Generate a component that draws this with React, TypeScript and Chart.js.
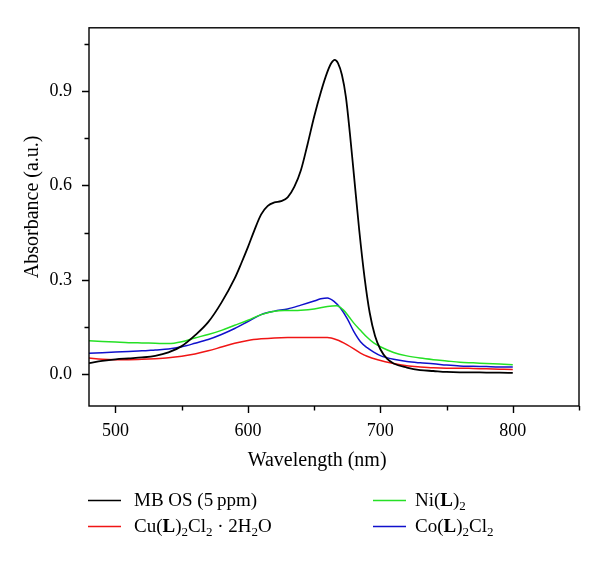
import React, { useEffect, useRef } from 'react';
import { Chart, registerables } from 'chart.js';

Chart.register(...registerables);

// ---------- data ----------
const mbWavelength = [480, 490, 500, 510, 520, 530, 540, 550, 560, 570, 580, 590, 595, 600, 605, 610, 615, 620, 625, 630, 635, 640, 645, 650, 655, 660, 663, 665.5, 668, 671, 674, 677, 680, 684, 688, 692, 696, 700, 705, 710, 720, 730, 740, 750, 760, 770, 780, 790, 800];
const mbAbsorbance = [0.036, 0.043, 0.048, 0.051, 0.054, 0.059, 0.070, 0.090, 0.124, 0.166, 0.228, 0.305, 0.353, 0.404, 0.459, 0.508, 0.535, 0.546, 0.550, 0.562, 0.595, 0.648, 0.730, 0.818, 0.895, 0.960, 0.988, 0.998, 0.988, 0.950, 0.880, 0.765, 0.635, 0.460, 0.310, 0.195, 0.122, 0.080, 0.050, 0.035, 0.022, 0.014, 0.011, 0.008, 0.007, 0.007, 0.006, 0.006, 0.005];

const cuWavelength = [480, 490, 500, 510, 520, 530, 540, 550, 560, 570, 580, 590, 600, 610, 620, 630, 640, 650, 660, 667, 675, 685, 690, 698, 710, 720, 730, 740, 750, 760, 770, 780, 790, 800];
const cuAbsorbance = [0.052, 0.048, 0.047, 0.047, 0.048, 0.050, 0.053, 0.058, 0.065, 0.075, 0.087, 0.099, 0.108, 0.113, 0.116, 0.117, 0.117, 0.117, 0.117, 0.110, 0.094, 0.068, 0.058, 0.047, 0.035, 0.028, 0.024, 0.021, 0.020, 0.020, 0.019, 0.018, 0.017, 0.016];

const niWavelength = [480, 490, 500, 510, 520, 530, 540, 550, 560, 570, 580, 590, 600, 610, 620, 630, 640, 650, 660, 667, 672, 676, 680, 685, 690, 695, 700, 710, 720, 730, 740, 750, 760, 770, 780, 790, 800];
const niAbsorbance = [0.107, 0.105, 0.103, 0.101, 0.100, 0.099, 0.098, 0.104, 0.116, 0.127, 0.140, 0.156, 0.172, 0.190, 0.201, 0.203, 0.204, 0.208, 0.216, 0.218, 0.205, 0.185, 0.163, 0.140, 0.118, 0.100, 0.088, 0.070, 0.059, 0.052, 0.047, 0.043, 0.039, 0.037, 0.035, 0.033, 0.031];

const coWavelength = [480, 490, 500, 510, 520, 530, 540, 550, 560, 570, 580, 590, 600, 610, 620, 630, 640, 650, 655, 660, 665, 670, 675, 680, 685, 690, 695, 700, 710, 720, 730, 740, 750, 760, 770, 780, 790, 800];
const coAbsorbance = [0.067, 0.069, 0.071, 0.073, 0.075, 0.078, 0.081, 0.088, 0.099, 0.111, 0.127, 0.146, 0.168, 0.190, 0.201, 0.208, 0.220, 0.233, 0.240, 0.243, 0.232, 0.210, 0.177, 0.136, 0.104, 0.085, 0.071, 0.060, 0.048, 0.041, 0.037, 0.034, 0.030, 0.027, 0.026, 0.025, 0.024, 0.024];

const seriesNames = ['MB OS (5 ppm)', 'Cu(L)2Cl2 · 2H2O', 'Ni(L)2', 'Co(L)2Cl2'];
const seriesColors = ['#000000', '#f01515', '#25e025', '#1010cc'];

// rich legend text: t = text, b = bold, s = subscript
type Seg = { t: string; b?: boolean; s?: boolean };
const legendMB: Seg[] = [{ t: 'MB OS (5\u2009ppm)' }];
const legendCu: Seg[] = [{ t: 'Cu(' }, { t: 'L', b: true }, { t: ')' }, { t: '2', s: true }, { t: 'Cl' }, { t: '2', s: true }, { t: ' \u00b7 2H' }, { t: '2', s: true }, { t: 'O' }];
const legendNi: Seg[] = [{ t: 'Ni(' }, { t: 'L', b: true }, { t: ')' }, { t: '2', s: true }];
const legendCo: Seg[] = [{ t: 'Co(' }, { t: 'L', b: true }, { t: ')' }, { t: '2', s: true }, { t: 'Cl' }, { t: '2', s: true }];

const xMin = 480;
const xMax = 850;
const yMin = -0.1;
const yMax = 1.1;
const xMajorTicks = [500, 600, 700, 800];
const xMinorTicks = [550, 650, 750, 850];
const yMajorTicks = [0, 0.3, 0.6, 0.9];
const yMinorTicks = [0.15, 0.45, 0.75, 1.05];
const yTickLabels = ['0.0', '0.3', '0.6', '0.9'];
const xTickLabels = ['500', '600', '700', '800'];
const xTitle = 'Wavelength (nm)';
const yTitle = 'Absorbance (a.u.)';

const FAMILY = '"Liberation Serif", "Times New Roman", serif';
const FS = 18;
const TITLE_FS = 20;
const LEGEND_FS = 19;

function zip(xs: number[], ys: number[]) {
  return xs.map((x, i) => ({ x, y: ys[i] }));
}

function drawRich(ctx: CanvasRenderingContext2D, segs: Seg[], x: number, baseline: number) {
  let cx = x;
  for (const s of segs) {
    const fs = s.s ? Math.round(LEGEND_FS * 0.7) : LEGEND_FS;
    ctx.font = `${s.b ? 'bold ' : ''}${fs}px ${FAMILY}`;
    ctx.fillText(s.t, cx, baseline + (s.s ? 4 : 0));
    cx += ctx.measureText(s.t).width;
  }
}

const framePlugin = {
  id: 'framePlugin',
  afterDraw(chart: any) {
    const { ctx, chartArea: a, scales } = chart;
    const xs = scales.x;
    const ys = scales.y;
    ctx.save();
    ctx.strokeStyle = '#000';
    ctx.lineWidth = 1.4;
    ctx.strokeRect(a.left, a.top, a.right - a.left, a.bottom - a.top);
    ctx.beginPath();
    for (const v of xMajorTicks) {
      const p = Math.round(xs.getPixelForValue(v)) + 0.5;
      ctx.moveTo(p, a.bottom); ctx.lineTo(p, a.bottom + 7);
    }
    for (const v of xMinorTicks) {
      const p = Math.round(xs.getPixelForValue(v)) + 0.5;
      ctx.moveTo(p, a.bottom); ctx.lineTo(p, a.bottom + 4.5);
    }
    for (const v of yMajorTicks) {
      const p = Math.round(ys.getPixelForValue(v)) + 0.5;
      ctx.moveTo(a.left, p); ctx.lineTo(a.left - 7, p);
    }
    for (const v of yMinorTicks) {
      const p = Math.round(ys.getPixelForValue(v)) + 0.5;
      ctx.moveTo(a.left, p); ctx.lineTo(a.left - 4.5, p);
    }
    ctx.stroke();

    // axis titles
    ctx.fillStyle = '#000';
    ctx.font = `${TITLE_FS}px ${FAMILY}`;
    ctx.textAlign = 'center';
    ctx.textBaseline = 'alphabetic';
    const xCenter = (xs.getPixelForValue(500) + xs.getPixelForValue(800)) / 2 + 3;
    ctx.fillText(xTitle, xCenter, a.bottom + 60);
    ctx.save();
    ctx.translate(38, (a.top + a.bottom) / 2 - 10);
    ctx.rotate(-Math.PI / 2);
    ctx.fillText(yTitle, 0, 0);
    ctx.restore();

    // legend
    ctx.textAlign = 'left';
    const rows = [
      { segs: legendMB, color: seriesColors[0], lx: 88, ly: 500, tx: 134 },
      { segs: legendCu, color: seriesColors[1], lx: 88, ly: 526, tx: 134 },
      { segs: legendNi, color: seriesColors[2], lx: 373, ly: 500, tx: 415 },
      { segs: legendCo, color: seriesColors[3], lx: 373, ly: 526, tx: 415 },
    ];
    for (const r of rows) {
      ctx.strokeStyle = r.color;
      ctx.lineWidth = 1.5;
      ctx.beginPath();
      ctx.moveTo(r.lx, r.ly + 0.5);
      ctx.lineTo(r.lx + 33, r.ly + 0.5);
      ctx.stroke();
      ctx.fillStyle = '#000';
      drawRich(ctx, r.segs, r.tx, r.ly + 6);
    }
    ctx.restore();
  },
};

export default function App() {
  const ref = useRef<HTMLCanvasElement | null>(null);
  useEffect(() => {
    if (!ref.current) return;
    const chart = new Chart(ref.current, {
      type: 'line',
      data: {
        datasets: [
          { label: seriesNames[0], data: zip(mbWavelength, mbAbsorbance), borderColor: seriesColors[0], borderWidth: 1.8 },
          { label: seriesNames[1], data: zip(cuWavelength, cuAbsorbance), borderColor: seriesColors[1], borderWidth: 1.5 },
          { label: seriesNames[2], data: zip(niWavelength, niAbsorbance), borderColor: seriesColors[2], borderWidth: 1.5 },
          { label: seriesNames[3], data: zip(coWavelength, coAbsorbance), borderColor: seriesColors[3], borderWidth: 1.5 },
        ].map((d) => ({ ...d, pointRadius: 0, fill: false, cubicInterpolationMode: 'monotone' as const })),
      },
      options: {
        responsive: false,
        animation: false,
        devicePixelRatio: 1,
        layout: { padding: { left: 0, right: 21, top: 21, bottom: 0 } },
        plugins: { legend: { display: false }, tooltip: { enabled: false } },
        scales: {
          x: {
            type: 'linear',
            min: xMin,
            max: xMax,
            grid: { display: false, drawTicks: false },
            border: { display: false },
            afterFit: (s: any) => { s.height = 156; },
            afterBuildTicks: (s: any) => { s.ticks = xMajorTicks.map((v) => ({ value: v })); },
            ticks: {
              padding: 14,
              maxRotation: 0,
              autoSkip: false,
              color: '#000',
              font: { family: FAMILY, size: FS },
              callback: (_v: any, i: number) => xTickLabels[i],
            },
          },
          y: {
            type: 'linear',
            min: yMin,
            max: yMax,
            grid: { display: false, drawTicks: false },
            border: { display: false },
            afterFit: (s: any) => { s.width = 89; },
            afterBuildTicks: (s: any) => { s.ticks = yMajorTicks.map((v) => ({ value: v })); },
            ticks: {
              padding: 17,
              autoSkip: false,
              color: '#000',
              font: { family: FAMILY, size: FS },
              callback: (_v: any, i: number) => yTickLabels[i],
            },
          },
        },
      },
      plugins: [framePlugin],
    });
    return () => chart.destroy();
  }, []);
  return (
    <div style={{ position: 'absolute', left: 0, top: 0, width: 600, height: 562, background: '#fff' }}>
      <canvas ref={ref} width={600} height={562} style={{ display: 'block' }} />
    </div>
  );
}
